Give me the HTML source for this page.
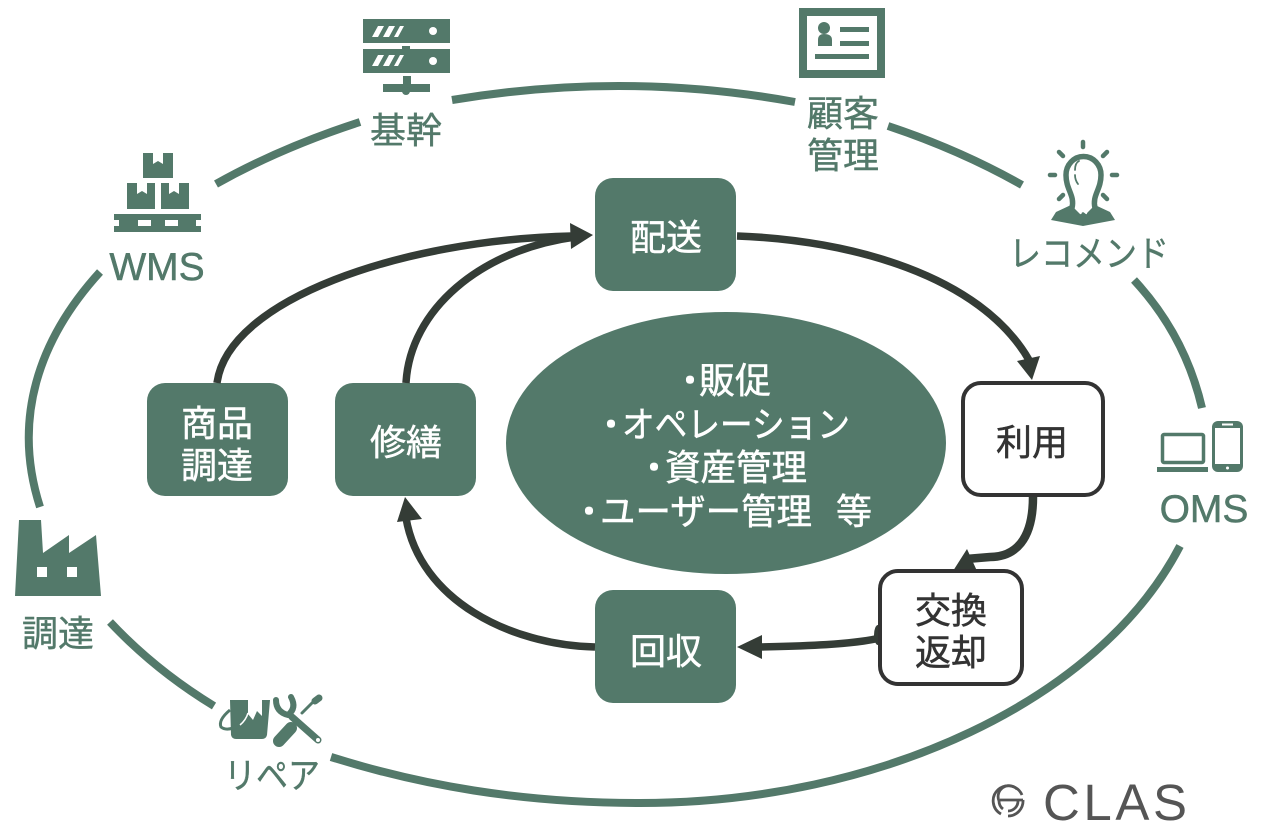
<!DOCTYPE html>
<html lang="ja"><head><meta charset="utf-8"><style>
html,body{margin:0;padding:0;background:#fff}
svg{display:block}
text{font-family:"Liberation Sans","Noto Sans CJK JP",sans-serif;text-anchor:middle}
.w{fill:#fff;stroke:#fff;stroke-width:.5px;font-size:36px}
.g{fill:#53796a;stroke:#53796a;stroke-width:.4px;font-size:36px}
.k{fill:#333;stroke:#333;stroke-width:.5px;font-size:36px}
.l{fill:#53796a;stroke:#53796a;stroke-width:.5px;font-size:39px}
</style></head><body>
<svg width="1280" height="840" viewBox="0 0 1280 840" xmlns="http://www.w3.org/2000/svg">
<g fill="none" stroke="#53796a" stroke-width="8">
<path d="M216,184 Q280,148 360,122"/>
<path d="M452,100 Q625,71 795,102"/>
<path d="M888,126 Q960,150 1022,185"/>
<path d="M1134,280 Q1185,335 1202,408"/>
<path d="M1180,546 C1100,700 880,803 640,803 C520,803 420,785 331,757"/>
<path d="M110,622 Q155,670 214,706"/>
<path d="M100,272 C38,340 12,420 40,507"/>
</g>
<g fill="#53796a">
<rect x="595" y="178" width="141" height="113" rx="18"/>
<rect x="147" y="383" width="141" height="113" rx="18"/>
<rect x="335" y="383" width="141" height="113" rx="18"/>
<rect x="595" y="590" width="141" height="113" rx="18"/>
<ellipse cx="726" cy="443" rx="220" ry="131"/>
</g>
<g fill="none" stroke="#343c36" stroke-width="7.500">
<path d="M217,383 C228,300 400,240 572,236"/>
<path d="M406,383 C410,310 480,250 575,237"/>
<path d="M737,236 C850,240 980,275 1029,360"/>
<path d="M1033,497 C1033,540 1015,557 990,557 L966,559" stroke-width="8.500"/>
<path d="M880,638 C850,645 800,646 760,647"/>
<path d="M595,647 C510,645 420,600 406,518"/>
</g>
<g fill="#343c36">
<path d="M593,235 L570,223 L571,249Z"/>
<path d="M1032,380 L1017,361 L1040,356Z"/>
<path d="M953,571 L967,549 L977,571Z"/>
<path d="M737,647 L762,635 L762,659Z"/>
<path d="M405,497 L397,522 L422,519Z"/>
<ellipse cx="878" cy="635" rx="4" ry="10"/>
</g>
<rect x="963" y="383" width="140" height="112" rx="18" fill="#fff" stroke="#333" stroke-width="4"/>
<rect x="880" y="571" width="142" height="113" rx="18" fill="#fff" stroke="#333" stroke-width="4"/>
<text class="w" x="666" y="250">配送</text>
<text class="w" x="217" y="436">商品</text>
<text class="w" x="217" y="478">調達</text>
<text class="w" x="406" y="455">修繕</text>
<text class="w" x="666" y="664">回収</text>
<text class="k" x="1032" y="455">利用</text>
<text class="k" x="951" y="623">交換</text>
<text class="k" x="951" y="665">返却</text>
<text class="w" x="690" y="393">・</text><text class="w" x="735" y="393">販促</text>
<text class="w" x="611" y="437">・</text><text class="w" x="736" y="437" textLength="228" lengthAdjust="spacingAndGlyphs">オペレーション</text>
<text class="w" x="654" y="480">・</text><text class="w" x="736" y="480" textLength="142" lengthAdjust="spacingAndGlyphs">資産管理</text>
<text class="w" x="589" y="524">・</text><text class="w" x="706" y="524" textLength="212" lengthAdjust="spacingAndGlyphs">ユーザー管理</text><text class="w" x="854" y="524">等</text>
<text class="g" x="406" y="143">基幹</text>
<text class="g" x="843" y="126">顧客</text>
<text class="g" x="843" y="168">管理</text>
<text class="g" x="1089" y="266" textLength="160" lengthAdjust="spacingAndGlyphs">レコメンド</text>
<text class="l" x="157" y="280">WMS</text>
<text class="l" x="1204" y="522">OMS</text>
<text class="g" x="58" y="646">調達</text>
<text class="g" x="272" y="788" textLength="96" lengthAdjust="spacingAndGlyphs">リペア</text>
<!-- server -->
<g fill="#53796a">
<rect x="363" y="19" width="87" height="24"/><rect x="363" y="49" width="87" height="24"/>
<rect x="402" y="46" width="8" height="4"/><rect x="403" y="76" width="8" height="9"/>
<rect x="383" y="84" width="47" height="8"/><circle cx="406" cy="91" r="4"/>
</g>
<g fill="#fff">
<circle cx="433" cy="31" r="4"/><circle cx="433" cy="61" r="4"/>
<path d="M372,37l6,-11h6l-6,11zM383,37l6,-11h6l-6,11zM394,37l6,-11h4l-6,11z"/>
<path d="M372,66l6,-11h6l-6,11zM383,66l6,-11h6l-6,11zM394,66l6,-11h4l-6,11z"/>
</g>
<!-- card -->
<rect x="803" y="12" width="78" height="62" fill="none" stroke="#53796a" stroke-width="8"/>
<g fill="#53796a">
<circle cx="824" cy="28" r="6"/><path d="M818,46v-6q0,-6 6,-6q8,0 8,6v6z"/>
<rect x="840" y="27" width="29" height="5"/><rect x="840" y="41" width="29" height="5"/><rect x="815" y="54" width="54" height="5"/>
</g>
<!-- pallet boxes -->
<g fill="#53796a">
<path d="M143,153h10v11l5,-3l5,3v-11h10v25h-30z"/>
<path d="M127,183h10v11l5,-3l5,3v-11h8v26h-28z"/>
<path d="M161,183h8v11l5,-3l5,3v-11h10v26h-28z"/>
<path d="M114,214h87v6h-5v6h5v6h-87v-6h5v-6h-5z"/>
</g>
<rect x="138" y="220" width="13" height="6" fill="#fff"/><rect x="165" y="220" width="13" height="6" fill="#fff"/>
<!-- bulb person -->
<g fill="none" stroke="#53796a" stroke-linecap="round">
<path d="M1072,208 C1075,195 1066,190 1066,175 A17.500,18.500 0 0 1 1101,175 C1101,190 1092,195 1095,208" stroke-width="5.500"/>
<path d="M1083,142V147M1059,152L1063,156M1107,152L1103,156M1050,175H1055M1112,175H1117M1059,199L1063,195M1107,199L1103,195" stroke-width="4.500"/>
<path d="M1075,170 Q1075,163 1079,161M1075,175 Q1075,180 1078,184" stroke-width="1.800"/>
</g>
<path d="M1051,220 L1056,212 L1071,205 L1080,214 L1083,212 L1086,214 L1095,205 L1110,212 L1115,220 L1083,226Z" fill="#53796a"/>
<path d="M1078,205 L1081,214M1089,205 L1086,214" stroke="#fff" stroke-width="1.500"/>
<!-- devices -->
<rect x="1162.500" y="434.500" width="41" height="28" rx="1.500" fill="none" stroke="#53796a" stroke-width="3.500"/>
<rect x="1157" y="467" width="51" height="5" fill="#53796a"/>
<rect x="1212" y="421" width="31" height="51" rx="6" fill="#53796a"/>
<rect x="1215" y="428" width="25" height="36" fill="#fff"/>
<rect x="1222" y="423.500" width="11" height="2" fill="#fff"/>
<circle cx="1227.500" cy="468" r="1.500" fill="#fff"/>
<!-- factory -->
<path d="M19,520H41L43,553L69,535V553L96,535L101,596H15Z" fill="#53796a"/>
<rect x="37" y="567" width="10" height="10" fill="#fff"/><rect x="67" y="567" width="10" height="10" fill="#fff"/>
<!-- repair -->
<path d="M230,700H248V714L253,720L257,711L262,716V700H270L267,735Q266,739 262,739H236Q232,739 231,735Z" fill="#53796a"/>
<path d="M230,710 Q218,720 221,727 Q227,732 240,725" fill="none" stroke="#53796a" stroke-width="3"/>
<path d="M240,725 Q246,720 248,713" fill="none" stroke="#fff" stroke-width="1.500"/>
<g fill="none" stroke="#53796a" stroke-linecap="round">
<path d="M292,717 L318,740" stroke-width="7"/>
<path d="M276,700 Q276,712 288,715 Q297,708 291,697" stroke-width="6"/>
<path d="M302,713 L313,702" stroke-width="3"/>
<path d="M315,701 L319,698" stroke-width="7"/>
<path d="M279,741 L291,728" stroke-width="12"/>
</g>
<circle cx="318" cy="740" r="2" fill="#fff"/>
<!-- logo -->
<g fill="none" stroke="#555" stroke-width="2.800">
<path d="M1022,795 A15,15 0 1 0 1001,814"/>
<path d="M1017,789 A11,11 0 0 0 999,801 Q999,806 1003,809"/>
<path d="M1000,800 H1023"/>
<path d="M1023,800 A15,15 0 0 1 1008,816"/>
<path d="M1018,801 A10,10 0 0 1 1008,811"/>
</g>
<text x="1115" y="820" style="font-size:51px;fill:#555" textLength="144" lengthAdjust="spacing">CLAS</text>
</svg>
</body></html>
